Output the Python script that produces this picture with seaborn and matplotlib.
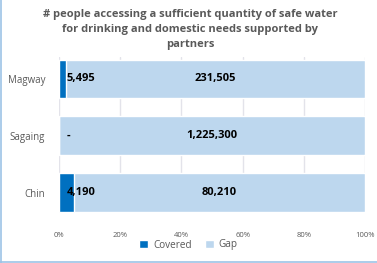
import pandas as pd
import matplotlib.pyplot as plt
import seaborn as sns
from matplotlib.patches import Patch
from matplotlib.lines import Line2D

# Daten
regions = ["Magway", "Sagaing", "Chin"]
covered = [5495, 0, 4190]
gap = [231505, 1225300, 80210]
covered_labels = ["5,495", "-", "4,190"]
gap_labels = ["231,505", "1,225,300", "80,210"]

c_cov = "#0070C0"
c_gap = "#BDD7EE"
grey = "#595959"

df = pd.DataFrame({"Region": regions, "Covered": covered, "Gap": gap})
df["Total"] = df["Covered"] + df["Gap"]
df["cov_pct"] = df["Covered"] / df["Total"] * 100
df["tot_pct"] = 100.0

sns.set_style("white")
plt.rcParams["font.family"] = ["Open Sans", "DejaVu Sans"]

fig = plt.figure(figsize=(3.77, 2.63), dpi=100)
ax = fig.add_axes([59 / 377, 1 - 213 / 263, 306 / 377, 156 / 263])

sns.barplot(data=df, y="Region", x="tot_pct", color=c_gap, width=0.67,
            saturation=1, ax=ax, zorder=2)
sns.barplot(data=df, y="Region", x="cov_pct", color=c_cov, width=0.67,
            saturation=1, ax=ax, zorder=3)

ax.set_xlim(0, 100)
ax.set_ylim(2.36, -0.38)
ax.set_xticks(range(0, 101, 20))
ax.set_xticklabels([f"{t}%" for t in range(0, 101, 20)], fontsize=5.5, color=grey)
ax.tick_params(axis="x", length=0, pad=14)
ax.tick_params(axis="y", length=0, pad=10, labelsize=7, labelcolor=grey)
ax.xaxis.grid(True, color="#E3E3EA", linewidth=1, zorder=0)
ax.set_axisbelow(True)
for s in ax.spines.values():
    s.set_visible(False)
ax.set_xlabel("")
ax.set_ylabel("")

# Beschriftungen
for i, row in df.iterrows():
    ax.text(2.6, i, covered_labels[i], ha="left", va="center", fontsize=8,
            fontweight="bold", color="black", zorder=5)
    ax.text((row["cov_pct"] + 100) / 2, i, gap_labels[i], ha="center",
            va="center", fontsize=8, fontweight="bold", color="black", zorder=5)

fig.text(0.505, 0.965, "# people accessing a sufficient quantity of safe water\n"
         "for drinking and domestic needs supported by\npartners",
         ha="center", va="top", fontsize=8, fontweight="bold", color=grey,
         linespacing=1.5, zorder=6,
         bbox=dict(facecolor="white", edgecolor="none", pad=0.5))

handles = [Patch(facecolor=c_cov, label="Covered"), Patch(facecolor=c_gap, label="Gap")]
fig.legend(handles=handles, loc="center", bbox_to_anchor=(0.5, 1 - 245 / 263),
           ncol=2, frameon=False, fontsize=7.2, handlelength=0.9, handleheight=0.9,
           columnspacing=1.3, handletextpad=0.5, labelcolor=grey)

# Rahmen links und unten
fig.add_artist(Line2D([0.003, 0.003], [0, 1], color="#9DC3E6", linewidth=1.2))
fig.add_artist(Line2D([0, 1], [0.003, 0.003], color="#9DC3E6", linewidth=1.2))

plt.savefig("out.png", dpi=100)
